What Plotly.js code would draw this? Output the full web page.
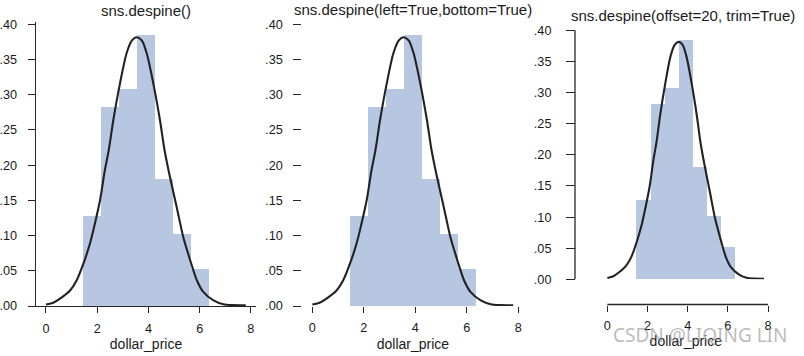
<!DOCTYPE html>
<html><head><meta charset="utf-8">
<script src="https://cdn.plot.ly/plotly-3.0.1.min.js"></script>
<style>html,body{margin:0;padding:0;background:#fff;}#chart{width:804px;height:356px;}</style>
</head><body><div id="chart"></div>
<script>
// ---- data ----
const binEdges = [1.45, 2.15, 2.85, 3.56, 4.26, 4.96, 5.66, 6.37];
const binDensity = [0.128, 0.282, 0.3076, 0.385, 0.180, 0.102, 0.052];
const kdeX = [0.0, 0.3, 0.55, 0.94, 1.2, 1.46, 1.72, 1.91, 2.11, 2.30, 2.45, 2.63, 2.89, 3.15, 3.35, 3.54, 3.74, 3.93, 4.19, 4.45, 4.63, 4.84, 5.1, 5.36, 5.63, 5.89, 6.14, 6.54, 6.93, 7.3, 7.8];
const kdeY = [0.002, 0.005, 0.0105, 0.022, 0.0365, 0.060, 0.089, 0.117, 0.150, 0.193, 0.221, 0.264, 0.316, 0.359, 0.3767, 0.3815, 0.377, 0.359, 0.316, 0.264, 0.221, 0.183, 0.141, 0.098, 0.065, 0.0365, 0.020, 0.008, 0.0025, 0.0012, 0.001];
const panelTitles = ['sns.despine()', 'sns.despine(left=True,bottom=True)', 'sns.despine(offset=20, trim=True)'];
const yTickVals = [0, 0.05, 0.10, 0.15, 0.20, 0.25, 0.30, 0.35, 0.40];
const yTickText = ['.00', '.05', '.10', '.15', '.20', '.25', '.30', '.35', '.40'];
const xTickVals = [0, 2, 4, 6, 8];
const xTickText = ['0', '2', '4', '6', '8'];
const xTitle = 'dollar_price';
const watermark = 'CSDN @LIQING LIN';

// ---- derived ----
const barX = binDensity.map((_, i) => (binEdges[i] + binEdges[i + 1]) / 2);
const barW = binDensity.map((_, i) => binEdges[i + 1] - binEdges[i]);

const W = 804, H = 356;
const px = v => v / W;
const py = v => 1 - v / H;
const FONT = 'Liberation Sans, Arial, sans-serif';
const INK = '#262626';
const TXT = '#1a1a1a';
const BAR = 'rgb(183,199,225)';

const traces = [];
['', '2', '3'].forEach(s => {
  traces.push({
    type: 'bar', x: barX, y: binDensity, width: barW,
    xaxis: 'x' + s, yaxis: 'y' + s,
    marker: {color: BAR, line: {width: 0}},
    hoverinfo: 'skip', showlegend: false
  });
  traces.push({
    type: 'scatter', mode: 'lines', x: kdeX, y: kdeY,
    xaxis: 'x' + s, yaxis: 'y' + s,
    line: {color: '#222222', width: 2.1, shape: 'spline', smoothing: 0.8},
    hoverinfo: 'skip', showlegend: false
  });
});

const tickfont = {family: FONT, size: 12.7, color: TXT};
const titlefont = {family: FONT, size: 14, color: TXT};
function xAx(extra, standoffLabel, standoffTitle) {
  return Object.assign({
    range: [-0.39, 8.2], tickvals: xTickVals, ticktext: xTickText,
    ticks: 'outside', ticklen: 6, tickwidth: 1, tickcolor: INK,
    ticklabelstandoff: standoffLabel,
    showgrid: false, zeroline: false, tickfont: tickfont, fixedrange: true,
    title: {text: xTitle, font: titlefont, standoff: standoffTitle}
  }, extra);
}
function yAx(extra, standoffLabel, len) {
  return Object.assign({
    range: [0, 0.4035], tickvals: yTickVals, ticktext: yTickText,
    ticks: 'outside', ticklen: len, tickwidth: 1, tickcolor: INK,
    ticklabelstandoff: standoffLabel,
    showgrid: false, zeroline: false, tickfont: tickfont, fixedrange: true
  }, extra);
}

const yDom12 = [py(306), py(21.7)];
const yDom3 = [py(279.3), py(28.2)];
const xDom1 = [px(36), px(256)];
const xDom2 = [px(302.3), px(523.5)];
const xDom3 = [px(599.5), px(772.1)];
const x3Pos = py(304.5), y3Pos = px(575);

const titleFont = {family: FONT, size: 15, color: TXT};

const layout = {
  width: W, height: H, margin: {l: 0, r: 0, t: 0, b: 0},
  paper_bgcolor: '#fff', plot_bgcolor: 'rgba(0,0,0,0)',
  barmode: 'overlay', bargap: 0,
  xaxis: xAx({domain: xDom1, anchor: 'y', showline: true, linecolor: INK, linewidth: 1.3}, 4, 4),
  yaxis: yAx({domain: yDom12, anchor: 'x', showline: true, linecolor: INK, linewidth: 1.3}, 8, 7),
  xaxis2: xAx({domain: xDom2, anchor: 'y2', showline: false}, 4, 4),
  yaxis2: yAx({domain: yDom12, anchor: 'x2', showline: false}, 8, 8),
  xaxis3: xAx({domain: xDom3, anchor: 'free', position: x3Pos, showline: false}, 3, 4),
  yaxis3: yAx({domain: yDom3, anchor: 'free', position: y3Pos, showline: false}, 12, 9),
  shapes: [
    {type: 'line', xref: 'x3', yref: 'paper', x0: xTickVals[0], x1: xTickVals[xTickVals.length - 1], y0: x3Pos, y1: x3Pos, line: {color: INK, width: 1.3}},
    {type: 'line', xref: 'paper', yref: 'y3', x0: y3Pos, x1: y3Pos, y0: yTickVals[0], y1: yTickVals[yTickVals.length - 1], line: {color: INK, width: 1.3}}
  ],
  annotations: [
    {text: panelTitles[0], xref: 'paper', yref: 'paper', x: (xDom1[0] + xDom1[1]) / 2, y: py(10.5), xanchor: 'center', yanchor: 'middle', showarrow: false, font: titleFont},
    {text: panelTitles[1], xref: 'paper', yref: 'paper', x: (xDom2[0] + xDom2[1]) / 2, y: py(10), xanchor: 'center', yanchor: 'middle', showarrow: false, font: titleFont},
    {text: panelTitles[2], xref: 'paper', yref: 'paper', x: px(683), y: py(15), xanchor: 'center', yanchor: 'middle', showarrow: false, font: titleFont},
    {text: watermark, xref: 'paper', yref: 'paper', x: px(700), y: py(335), xanchor: 'center', yanchor: 'middle', showarrow: false, font: {family: 'Noto Sans, DejaVu Sans, sans-serif', size: 19, color: 'rgba(140,140,140,0.6)'}}
  ]
};

Plotly.newPlot('chart', traces, layout, {staticPlot: true, displayModeBar: false});
</script>
</body></html>
